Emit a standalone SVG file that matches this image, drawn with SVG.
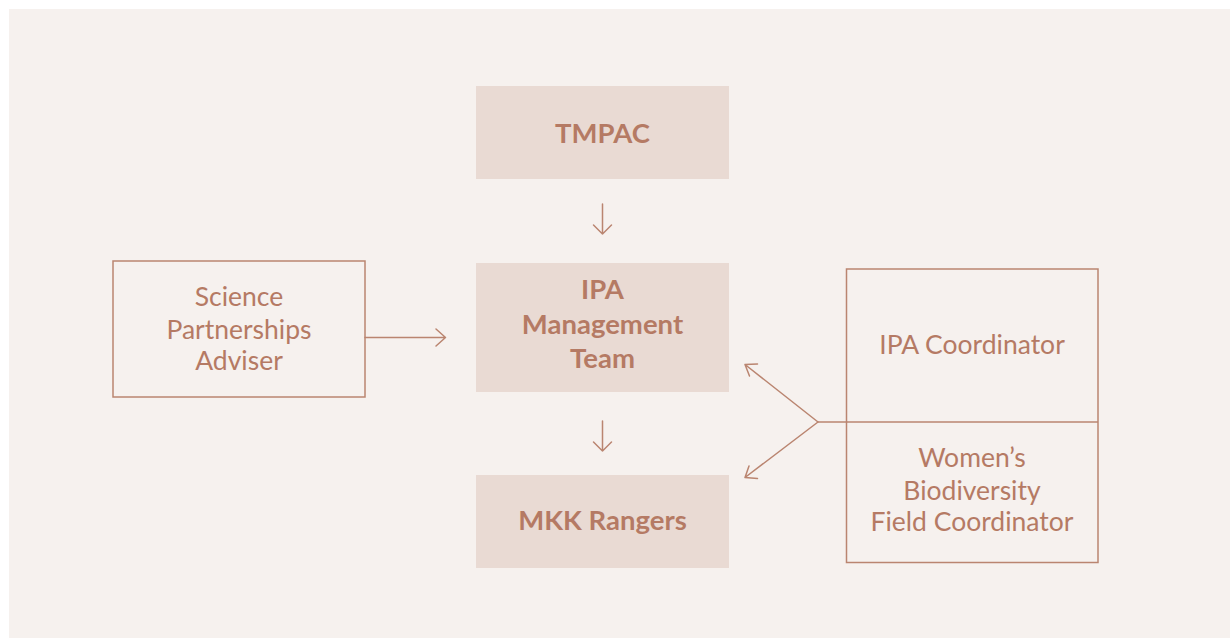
<svg xmlns="http://www.w3.org/2000/svg" width="1230" height="638" viewBox="0 0 1230 638">
<defs>
<style>
.bg{fill:#f6f1ee}
.solid{fill:#e9dad3}
.outline{fill:none;stroke:#ba8570;stroke-width:1.5}
.t{font-family:Lato,"Noto Sans",sans-serif;fill:#b57a64;text-anchor:middle}
.b{font-size:27.5px;font-weight:700}
.r{font-size:26.5px;font-weight:400}
.ln{fill:none;stroke:#ba8570;stroke-width:1.5;stroke-linecap:round;stroke-linejoin:round}
</style>
</defs>
<rect x="0" y="0" width="1230" height="638" fill="#ffffff"/>
<rect class="bg" x="9" y="9" width="1221" height="629"/>
<g id="tmpac">
<rect class="solid" x="476" y="86" width="253" height="93"/>
<text class="t b" x="602.5" y="143">TMPAC</text>
</g>
<g id="ipa-team">
<rect class="solid" x="476" y="263" width="253" height="129"/>
<text class="t b" x="602.5" y="299">IPA</text>
<text class="t b" x="602.5" y="334">Management</text>
<text class="t b" x="602.5" y="368">Team</text>
</g>
<g id="mkk">
<rect class="solid" x="476" y="475" width="253" height="93"/>
<text class="t b" x="602.5" y="530">MKK Rangers</text>
</g>
<g id="science">
<rect class="outline" x="113" y="261" width="252" height="136"/>
<text class="t r" x="239" y="306">Science</text>
<text class="t r" x="239" y="339">Partnerships</text>
<text class="t r" x="239" y="370">Adviser</text>
</g>
<g id="coordinators">
<rect class="outline" x="846.5" y="269" width="251.5" height="293.5"/>
<line class="outline" x1="846.5" y1="422" x2="1098" y2="422"/>
<text class="t r" x="972" y="354">IPA Coordinator</text>
<text class="t r" x="972" y="467">Women’s</text>
<text class="t r" x="972" y="500">Biodiversity</text>
<text class="t r" x="972" y="531">Field Coordinator</text>
</g>
<g id="connectors">
<path class="ln" d="M602.5 204 V234 M593.5 225 L602.5 234 L611.5 225"/>
<path class="ln" d="M602.5 421 V451 M593.5 442 L602.5 451 L611.5 442"/>
<path class="ln" d="M365 337.5 H445.5 M436 329 L445.5 337.5 L436 346"/>
<path class="ln" d="M846.5 422 H818 L745 364.5 M745 364.5 L757.5 364 M745 364.5 L749.5 376"/>
<path class="ln" d="M818 422 L745 477.5 M745 477.5 L749 466 M745 477.5 L757.5 478.5"/>
</g>
</svg>
